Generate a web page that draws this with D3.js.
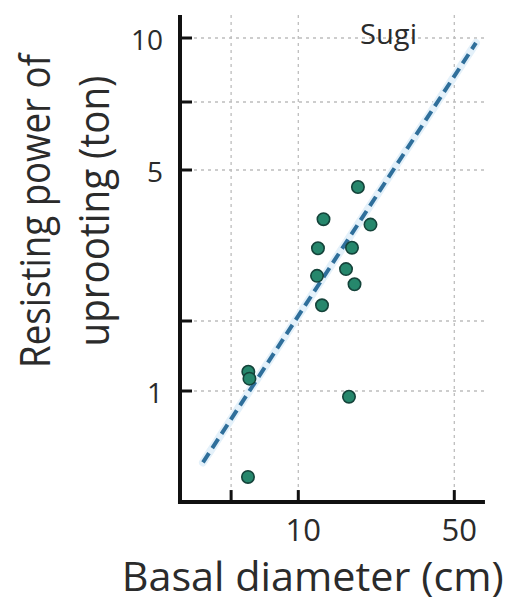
<!DOCTYPE html>
<html><head><meta charset="utf-8">
<script src="https://cdn.jsdelivr.net/npm/d3@7"></script>
<style>html,body{margin:0;padding:0;background:#fff;} svg{display:block;}</style>
</head><body>
<svg id="chart" width="510" height="603"></svg>
<script>
// ---- data ----
const diameter = [18.5, 12.97, 21.06, 12.25, 17.40, 12.13, 16.36, 17.86, 12.77, 5.97, 6.04, 16.87, 5.95];
const power    = [4.51, 3.71, 3.59, 3.11, 3.12, 2.63, 2.74, 2.50, 2.20, 1.21, 1.13, 0.945, 0.427];
const fitDiameter = [3.74, 62.5];
const fitPower    = [0.493, 9.78];
const xTicks = [5, 10, 50];
const xTickLabels = ["", "10", "50"];
const yTicks = [1, 2, 5, 7.5, 10];
const yTickLabels = ["1", "", "5", "", "10"];
const xExtent = [2.89, 68.6];
const yExtent = [0.333, 11.09];
const panelLabel = "Sugi";
const xTitle = "Basal diameter (cm)";
const yTitle = ["Resisting power of", "uprooting (ton)"];

// ---- scales ----
const x = d3.scaleLog().domain([10, 50]).range([298.3, 454.3]);
const y = d3.scaleLog().domain(yTicks).range([391, 321, 170, 102, 38]);

const svg = d3.select("#chart");
const font = "'Open Sans', 'Noto Sans', sans-serif";
const textCol = "#2b2b2b";

const x0 = x(xExtent[0]), x1 = x(xExtent[1]);
const yBot = y(yExtent[0]), yTop = y(yExtent[1]);
const axisX = 180;

// grid
const grid = svg.append("g").attr("stroke", "#bdbdbd").attr("stroke-width", 1.3)
  .attr("stroke-dasharray", "3,4").attr("fill", "none");
grid.selectAll("line.v").data(xTicks).join("line").attr("class", "v")
  .attr("x1", d => x(d)).attr("x2", d => x(d)).attr("y1", yTop).attr("y2", yBot);
grid.selectAll("line.h").data(yTicks).join("line").attr("class", "h")
  .attr("x1", axisX).attr("x2", x1 + 2).attr("y1", d => y(d)).attr("y2", d => y(d));

// regression line
const fit = fitDiameter.map((d, i) => [x(d), y(fitPower[i])]);
const lineGen = d3.line();
svg.append("path").attr("d", lineGen(fit)).attr("stroke", "#e4f1fa")
  .attr("stroke-width", 8).attr("fill", "none").attr("stroke-linecap", "round");
svg.append("path").attr("d", lineGen(fit)).attr("stroke", "#2f6f9b")
  .attr("stroke-width", 4).attr("fill", "none").attr("stroke-dasharray", "11,6");

// points
svg.append("g").selectAll("circle").data(diameter).join("circle")
  .attr("cx", d => x(d)).attr("cy", (d, i) => y(power[i])).attr("r", 6.2)
  .attr("fill", "#26876c").attr("stroke", "#14433a").attr("stroke-width", 1.6);

// axes
const ax = svg.append("g").attr("stroke", "#111");
ax.append("line").attr("x1", axisX).attr("x2", axisX).attr("y1", yTop).attr("y2", yBot + 2)
  .attr("stroke-width", 4);
ax.append("line").attr("x1", x0).attr("x2", x1).attr("y1", yBot).attr("y2", yBot)
  .attr("stroke-width", 4);
ax.selectAll("line.yt").data(yTicks).join("line").attr("class", "yt")
  .attr("x1", axisX).attr("x2", axisX + 12).attr("y1", d => y(d)).attr("y2", d => y(d))
  .attr("stroke-width", 3);
ax.selectAll("line.xt").data(xTicks).join("line").attr("class", "xt")
  .attr("x1", d => x(d)).attr("x2", d => x(d)).attr("y1", yBot).attr("y2", yBot - 12)
  .attr("stroke-width", 3);

// tick labels
svg.append("g").selectAll("text").data(yTicks).join("text")
  .attr("x", 163).attr("y", d => y(d) + 12)
  .attr("text-anchor", "end").attr("font-family", font).attr("font-size", 28)
  .attr("fill", textCol).text((d, i) => yTickLabels[i]);
svg.append("g").selectAll("text").data(xTicks).join("text")
  .attr("x", d => x(d) + 5).attr("y", 541)
  .attr("text-anchor", "middle").attr("font-family", font).attr("font-size", 31)
  .attr("fill", textCol).text((d, i) => xTickLabels[i]);

// panel label
svg.append("text").attr("x", 360).attr("y", 44).attr("font-family", font)
  .attr("font-size", 28).attr("fill", textCol)
  .attr("textLength", 57).attr("lengthAdjust", "spacingAndGlyphs").text(panelLabel);

// titles
svg.append("text").attr("x", 121.7).attr("y", 591).attr("font-family", font)
  .attr("font-size", 41).attr("fill", textCol)
  .attr("textLength", 382).attr("lengthAdjust", "spacingAndGlyphs").text(xTitle);

const yt = svg.append("g").attr("transform", "translate(0,211) rotate(-90)");
yt.append("text").attr("x", 0).attr("y", 50).attr("text-anchor", "middle")
  .attr("font-family", font).attr("font-size", 42).attr("fill", textCol)
  .attr("textLength", 314).attr("lengthAdjust", "spacingAndGlyphs").text(yTitle[0]);
yt.append("text").attr("x", 0).attr("y", 109).attr("text-anchor", "middle")
  .attr("font-family", font).attr("font-size", 42).attr("fill", textCol)
  .attr("textLength", 271).attr("lengthAdjust", "spacingAndGlyphs").text(yTitle[1]);
</script>
</body></html>
